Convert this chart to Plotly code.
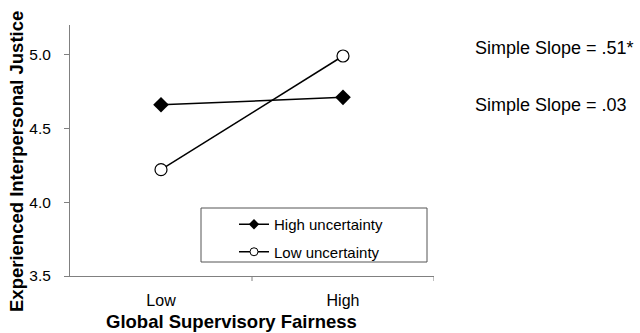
import plotly.graph_objects as go

categories = ["Low", "High"]
high_uncertainty = [4.66, 4.71]
low_uncertainty = [4.22, 4.99]
series_names = ["High uncertainty", "Low uncertainty"]
slope_labels = ["Simple Slope = .51*", "Simple Slope = .03"]
y_ticks = [3.5, 4.0, 4.5, 5.0]
y_tick_labels = ["3.5", "4.0", "4.5", "5.0"]

FONT = "Liberation Sans, Arial, sans-serif"
xpos = [0, 1]

# plot area in pixels
L, R, T, B = 70, 434, 25, 276
W, H = R - L, B - T


def px(x):
    return (x - L) / W


def py(y):
    return (B - y) / H


fig = go.Figure()
fig.add_trace(go.Scatter(
    x=xpos, y=high_uncertainty, name=series_names[0], mode="lines+markers", showlegend=False,
    line=dict(color="black", width=1.5),
    marker=dict(symbol="diamond", size=12, color="black"),
))
fig.add_trace(go.Scatter(
    x=xpos, y=low_uncertainty, name=series_names[1], mode="lines+markers", showlegend=False,
    line=dict(color="black", width=1.5),
    marker=dict(symbol="circle", size=12, color="white", line=dict(color="black", width=1.2)),
))
# legend entries (smaller markers, as in the reference)
fig.add_trace(go.Scatter(
    x=[None], y=[None], name=series_names[0], mode="lines+markers", legendgroup="a",
    line=dict(color="black", width=1.5),
    marker=dict(symbol="diamond", size=8, color="black"),
))
fig.add_trace(go.Scatter(
    x=[None], y=[None], name=series_names[1], mode="lines+markers", legendgroup="b",
    line=dict(color="black", width=1.5),
    marker=dict(symbol="circle", size=8, color="white", line=dict(color="black", width=1)),
))

# legend frame
fig.add_shape(type="rect", xref="paper", yref="paper",
              x0=px(201), x1=px(427), y0=py(262), y1=py(208),
              line=dict(color="#555", width=1), fillcolor="white", layer="below")

for txt, yy in zip(slope_labels, [48, 105]):
    fig.add_annotation(x=px(473), y=py(yy), xref="paper", yref="paper", text=txt, showarrow=False,
                       xanchor="left", yanchor="middle", font=dict(size=18, color="black", family=FONT))

fig.add_annotation(x=px(231), y=py(321), xref="paper", yref="paper",
                   text="<b>Global Supervisory Fairness</b>",
                   showarrow=False, xanchor="center", yanchor="middle", borderpad=0,
                   font=dict(size=18.5, color="black", family=FONT))
fig.add_annotation(x=px(16), y=py(162), xref="paper", yref="paper",
                   text="<b>Experienced Interpersonal Justice</b>", textangle=-90,
                   showarrow=False, xanchor="center", yanchor="middle",
                   font=dict(size=18.5, color="black", family=FONT))

fig.update_layout(
    width=640, height=333,
    margin=dict(l=L, r=640 - R, t=T, b=333 - B),
    paper_bgcolor="white", plot_bgcolor="white",
    font=dict(family=FONT, color="black", size=15),
    showlegend=True,
    legend=dict(x=px(234), y=py(208), xanchor="left", yanchor="top",
                bgcolor="rgba(0,0,0,0)", borderwidth=0,
                font=dict(size=15, family=FONT, color="black"),
                tracegroupgap=5),
    xaxis=dict(
        range=[-0.5, 1.5], tickmode="array", tickvals=xpos, ticktext=categories,
        showgrid=False, zeroline=False, showline=True, linecolor="#808080", linewidth=1,
        ticks="", ticklabelstandoff=10, tickfont=dict(size=16, family=FONT, color="black"),
    ),
    yaxis=dict(
        range=[3.5, 5.2], tickmode="array", tickvals=y_ticks, ticktext=y_tick_labels,
        showgrid=False, zeroline=False, showline=True, linecolor="#808080", linewidth=1,
        ticks="outside", ticklen=5, tickcolor="#808080", ticklabelstandoff=10,
        tickfont=dict(size=15.5, family=FONT, color="black"),
    ),
)

# category separator ticks on x axis
for xb in [0.5, 1.5]:
    fig.add_shape(type="line", xref="x", yref="paper", x0=xb, x1=xb, y0=0, y1=-5 / H,
                  line=dict(color="#808080", width=1))

fig.write_html("out.html", config={"displayModeBar": False},
               post_script="document.body.style.margin='0';")
